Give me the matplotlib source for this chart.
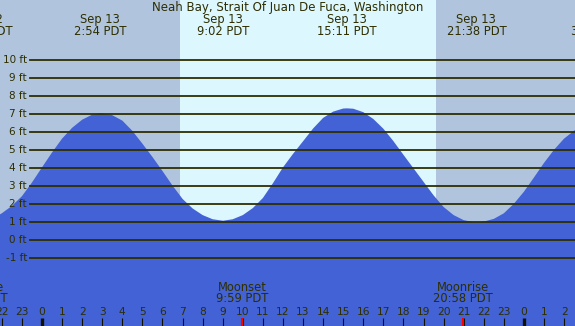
import matplotlib
matplotlib.use("Agg")
import matplotlib.pyplot as plt
import matplotlib.transforms as mtransforms

# tide heights (ft) every half hour, hours from Sep 13 00:00
tide_hours = [h / 2 for h in range(-6, 55)]
tide_heights = [1.0, 1.19, 1.5, 1.91, 2.45, 3.21, 4.05, 4.88, 5.65, 6.25,
                6.7, 6.98, 7.05, 6.95, 6.65, 6.08, 5.37, 4.63, 3.85, 3.04,
                2.3, 1.77, 1.4, 1.17, 1.09, 1.17, 1.4, 1.79, 2.35, 3.17,
                4.05, 4.8, 5.5, 6.21, 6.8, 7.15, 7.32, 7.31, 7.12, 6.74,
                6.2, 5.51, 4.75, 4.0, 3.25, 2.5, 1.85, 1.4, 1.12, 1.01,
                1.04, 1.19, 1.5, 2.03, 2.7, 3.49, 4.3, 5.03, 5.65, 6.09, 6.4]

# high / low tides
ext_days = ['Sep 12', 'Sep 13', 'Sep 13', 'Sep 13', 'Sep 13', 'Sep 14']
ext_times = ['21:04', '2:54', '9:02', '15:11', '21:38', '3:40']
ext_heights = [1.0, 7.06, 1.09, 7.33, 1.0, 6.6]

sunrise = '6:52'
sunset = '19:37'

moon_names = ['Moonrise', 'Moonset', 'Moonrise']
moon_days = ['Sep 12', 'Sep 13', 'Sep 13']
moon_times = ['20:48', '9:59', '20:58']

ft_levels = list(range(-1, 11))
title = 'Neah Bay, Strait Of Juan De Fuca, Washington'

W, H = 575, 326
NIGHT = '#b0c4de'
DAY = '#ddf7ff'
WATER = '#4262d5'
INK = '#2e2e00'
day_offset = {'Sep 12': -24, 'Sep 13': 0, 'Sep 14': 24}


def to_hours(day, hhmm):
    hh, mm = hhmm.split(':')
    return day_offset[day] + int(hh) + int(mm) / 60.0


ext_hours = [to_hours(d, t) for d, t in zip(ext_days, ext_times)]

pts = sorted(list(zip(tide_hours, tide_heights)) + list(zip(ext_hours, ext_heights)))
tx = [p[0] for p in pts]
ty = [p[1] for p in pts]

fig = plt.figure(figsize=(W / 100, H / 100), dpi=100)
ax = fig.add_axes([0, 0, 1, 1])
ax.set_facecolor(NIGHT)
x0, x1 = -42 / 20.08, (W - 42) / 20.08
y0, y1 = -(H - 240.3) / 18.0, 240.3 / 18.0
ax.set_xlim(x0, x1)
ax.set_ylim(y0, y1)
for s in ax.spines.values():
    s.set_visible(False)
ax.set_xticks([])
ax.set_yticks([])

ax.axvspan(to_hours('Sep 13', sunrise), to_hours('Sep 13', sunset), color=DAY, lw=0, zorder=0)
ax.fill_between(tx, y0 - 5, ty, color=WATER, lw=0, zorder=1)

# ft grid + labels
yt = mtransforms.blended_transform_factory(ax.transAxes, ax.transData)
for v in ft_levels:
    ax.axhline(v, xmin=30 / W, xmax=1, color=INK, lw=1.3, zorder=2)
    ax.text(27 / W, v, f'{v} ft', transform=yt, ha='right', va='center',
            fontsize=7.5, color=INK, zorder=3)

xt = mtransforms.blended_transform_factory(ax.transData, ax.transAxes)


def py(px):
    return 1 - px / H


ax.text(0.5, py(7.5), title, transform=ax.transAxes, ha='center', va='center',
        fontsize=8.5, color=INK)
for d, t, h in zip(ext_days, ext_times, ext_hours):
    ax.text(h, py(20), d, transform=xt, ha='center', va='center', fontsize=8.3, color=INK)
    ax.text(h, py(31.5), f'{t} PDT', transform=xt, ha='center', va='center', fontsize=8.3, color=INK)

# hour ticks along the bottom
moon_hours = [to_hours(d, t) for d, t in zip(moon_days, moon_times)]
for hr in range(-2, 27):
    ax.text(hr, py(312), str(hr % 24), transform=xt, ha='center', va='center',
            fontsize=7.7, color=INK)
    ax.plot([hr, hr], [py(318), 0], transform=xt, color='#111100',
            lw=2.4 if hr % 24 == 0 else 0.8, solid_capstyle='butt', zorder=3)

for name, t, h in zip(moon_names, moon_times, moon_hours):
    ax.text(h, py(287.5), name, transform=xt, ha='center', va='center', fontsize=8.3, color=INK)
    ax.text(h, py(299), f'{t} PDT', transform=xt, ha='center', va='center', fontsize=8.3, color=INK)
    ax.plot([h, h], [py(318), 0], transform=xt, color='#ff0000', lw=1.5,
            solid_capstyle='butt', zorder=4)

fig.savefig('out.png', dpi=100)
